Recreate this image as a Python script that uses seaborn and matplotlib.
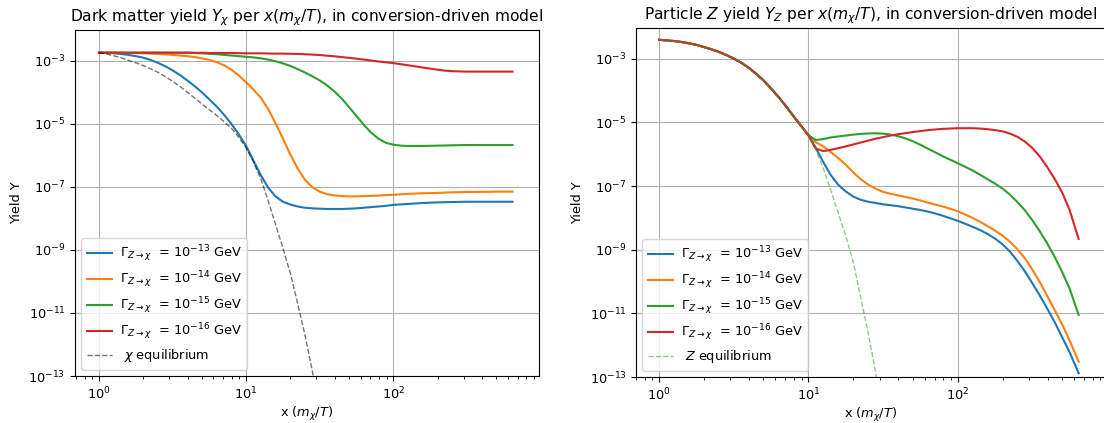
import numpy as np
import pandas as pd
import matplotlib
matplotlib.use("Agg")
import matplotlib.pyplot as plt
import seaborn as sns

# ---------------- data ----------------
# x = m_chi / T  (sampling points)
x_grid = [1.0, 1.12, 1.26, 1.41, 1.58, 1.78, 2.0, 2.24, 2.51, 2.82,
          3.16, 3.55, 3.98, 4.47, 5.01, 5.62, 6.31, 7.08, 7.94, 8.91,
          10.0, 11.2, 12.6, 14.1, 15.8, 17.8, 20.0, 22.4, 25.1, 28.2,
          31.6, 35.5, 39.8, 44.7, 50.1, 56.2, 63.1, 70.8, 79.4, 89.1,
          100, 112, 126, 141, 158, 178, 200, 224, 251, 282,
          316, 355, 398, 447, 501, 562, 646]
x_eq = [1.0, 1.12, 1.26, 1.41, 1.58, 1.78, 2.0, 2.24, 2.51, 2.82,
        3.16, 3.55, 3.98, 4.47, 5.01, 5.62, 6.31, 7.08, 7.94, 8.91,
        10.0, 11.2, 12.6, 14.1, 15.8, 17.8, 20.0, 22.4, 25.1, 28.2, 31.6]

gamma_exponents = [-13, -14, -15, -16]
y_tick_values = [1e-13, 1e-11, 1e-9, 1e-7, 1e-5, 1e-3]

# Left panel: log10 of dark-matter yield Y_chi
logY_chi_g13 = [-2.74, -2.745, -2.76, -2.78, -2.81, -2.85, -2.90, -2.97, -3.06, -3.17,
                -3.30, -3.45, -3.62, -3.80, -4.00, -4.22, -4.45, -4.71, -5.00, -5.33,
                -5.70, -6.16, -6.63, -7.02, -7.30, -7.47, -7.56, -7.62, -7.66, -7.68,
                -7.69, -7.70, -7.70, -7.70, -7.69, -7.68, -7.66, -7.64, -7.62, -7.60,
                -7.57, -7.555, -7.54, -7.525, -7.51, -7.50, -7.49, -7.485, -7.48, -7.475,
                -7.47, -7.47, -7.47, -7.47, -7.47, -7.47, -7.47]
logY_chi_g14 = [-2.74, -2.74, -2.74, -2.745, -2.75, -2.755, -2.76, -2.77, -2.78, -2.795,
                -2.81, -2.83, -2.85, -2.88, -2.92, -2.97, -3.04, -3.14, -3.28, -3.46,
                -3.68, -3.91, -4.17, -4.52, -4.97, -5.47, -5.98, -6.42, -6.77, -7.01,
                -7.15, -7.23, -7.27, -7.29, -7.30, -7.30, -7.29, -7.285, -7.275, -7.26,
                -7.25, -7.235, -7.22, -7.21, -7.20, -7.195, -7.19, -7.18, -7.17, -7.165,
                -7.16, -7.16, -7.155, -7.155, -7.15, -7.15, -7.15]
logY_chi_g15 = [-2.74, -2.74, -2.74, -2.74, -2.74, -2.74, -2.74, -2.74, -2.74, -2.74,
                -2.74, -2.74, -2.74, -2.75, -2.76, -2.775, -2.79, -2.81, -2.83, -2.85,
                -2.87, -2.89, -2.92, -2.96, -3.01, -3.08, -3.16, -3.26, -3.37, -3.49,
                -3.62, -3.78, -3.97, -4.20, -4.47, -4.75, -5.03, -5.28, -5.47, -5.60,
                -5.66, -5.69, -5.70, -5.70, -5.70, -5.695, -5.69, -5.685, -5.68, -5.675,
                -5.67, -5.67, -5.67, -5.67, -5.67, -5.67, -5.67]
logY_chi_g16 = [-2.74, -2.74, -2.74, -2.74, -2.74, -2.74, -2.74, -2.74, -2.74, -2.74,
                -2.74, -2.74, -2.74, -2.745, -2.745, -2.75, -2.75, -2.75, -2.75, -2.755,
                -2.76, -2.76, -2.76, -2.765, -2.77, -2.77, -2.775, -2.78, -2.79, -2.80,
                -2.815, -2.835, -2.855, -2.88, -2.905, -2.93, -2.96, -2.99, -3.02, -3.045,
                -3.07, -3.105, -3.14, -3.175, -3.21, -3.245, -3.28, -3.31, -3.325, -3.335,
                -3.34, -3.34, -3.34, -3.34, -3.34, -3.34, -3.34]
logY_chi_eq = [-2.74, -2.78, -2.84, -2.90, -2.98, -3.06, -3.15, -3.25, -3.36, -3.50,
               -3.65, -3.81, -3.99, -4.18, -4.37, -4.55, -4.73, -4.93, -5.14, -5.42,
               -5.76, -6.20, -6.75, -7.43, -8.17, -8.95, -9.75, -10.70, -11.70, -12.85,
               -14.10]

# Right panel: log10 of particle-Z yield Y_Z
logY_Z_g13 = [-2.40, -2.42, -2.44, -2.47, -2.51, -2.56, -2.63, -2.70, -2.78, -2.88,
              -2.99, -3.12, -3.28, -3.47, -3.68, -3.93, -4.20, -4.49, -4.80, -5.10,
              -5.40, -5.80, -6.25, -6.65, -6.95, -7.17, -7.33, -7.43, -7.49, -7.53,
              -7.57, -7.60, -7.63, -7.67, -7.71, -7.75, -7.80, -7.86, -7.93, -8.01,
              -8.09, -8.18, -8.28, -8.38, -8.50, -8.65, -8.83, -9.06, -9.35, -9.68,
              -10.05, -10.44, -10.85, -11.28, -11.75, -12.22, -12.88]
logY_Z_g14 = [-2.40, -2.42, -2.44, -2.47, -2.51, -2.56, -2.63, -2.70, -2.78, -2.88,
              -2.99, -3.12, -3.28, -3.47, -3.68, -3.93, -4.20, -4.49, -4.80, -5.10,
              -5.40, -5.62, -5.75, -5.93, -6.11, -6.33, -6.57, -6.78, -6.95, -7.08,
              -7.18, -7.24, -7.29, -7.34, -7.39, -7.45, -7.52, -7.58, -7.64, -7.71,
              -7.79, -7.89, -8.00, -8.12, -8.25, -8.40, -8.56, -8.75, -8.98, -9.27,
              -9.62, -10.02, -10.45, -10.90, -11.35, -11.85, -12.52]
logY_Z_g15 = [-2.40, -2.42, -2.44, -2.47, -2.51, -2.56, -2.63, -2.70, -2.78, -2.88,
              -2.99, -3.12, -3.28, -3.47, -3.68, -3.93, -4.20, -4.49, -4.80, -5.10,
              -5.40, -5.55, -5.52, -5.47, -5.44, -5.41, -5.38, -5.36, -5.345, -5.34,
              -5.35, -5.38, -5.43, -5.50, -5.59, -5.70, -5.82, -5.94, -6.06, -6.17,
              -6.28, -6.39, -6.51, -6.64, -6.78, -6.92, -7.08, -7.27, -7.50, -7.76,
              -8.07, -8.42, -8.80, -9.23, -9.70, -10.22, -11.05]
logY_Z_g16 = [-2.40, -2.42, -2.44, -2.47, -2.51, -2.56, -2.63, -2.70, -2.78, -2.88,
              -2.99, -3.12, -3.28, -3.47, -3.68, -3.93, -4.20, -4.49, -4.80, -5.10,
              -5.40, -5.82, -5.90, -5.86, -5.81, -5.75, -5.69, -5.63, -5.57, -5.51,
              -5.46, -5.41, -5.37, -5.335, -5.30, -5.27, -5.24, -5.22, -5.20, -5.19,
              -5.18, -5.18, -5.18, -5.19, -5.21, -5.24, -5.28, -5.35, -5.45, -5.60,
              -5.80, -6.07, -6.40, -6.78, -7.20, -7.75, -8.66]
logY_Z_eq = [-2.40, -2.42, -2.44, -2.47, -2.51, -2.56, -2.63, -2.70, -2.78, -2.88,
             -2.99, -3.12, -3.28, -3.47, -3.68, -3.93, -4.20, -4.49, -4.80, -5.10,
             -5.40, -5.85, -6.45, -7.12, -7.83, -8.57, -9.40, -10.50, -11.60, -12.85,
             -14.30]

# ---------------- style ----------------
plt.rcParams.update({
    "axes.titlesize": 11.2,
    "axes.labelsize": 9.3,
    "xtick.labelsize": 9.3,
    "ytick.labelsize": 9.3,
    "legend.fontsize": 9.3,
})

def gamma_label(e):
    return r"$\Gamma_{Z\rightarrow\chi}$  = $10^{%d}$ GeV" % e

def make_df(series, x):
    return pd.DataFrame({"x": x, "Y": np.power(10.0, np.array(series))})

left_series = [logY_chi_g13, logY_chi_g14, logY_chi_g15, logY_chi_g16]
right_series = [logY_Z_g13, logY_Z_g14, logY_Z_g15, logY_Z_g16]
colors = sns.color_palette("tab10", 4)

fig = plt.figure(figsize=(11.04, 4.23), dpi=100)
axL = fig.add_axes([0.0679, 0.1111, 0.4203, 0.8180])
axR = fig.add_axes([0.5761, 0.1087, 0.4257, 0.8251])

for ax, series, eq, eq_label, eq_kw, ytop, xlim, title in [
    (axL, left_series, logY_chi_eq, r" $\chi$ equilibrium",
     dict(color="k", alpha=0.55), 10 ** -2.02, (0.687, 977),
     r"Dark matter yield $Y_\chi$ per $x(m_\chi/T)$, in conversion-driven model"),
    (axR, right_series, logY_Z_eq, r" $Z$ equilibrium",
     dict(color="tab:green", alpha=0.55), 10 ** -2.03, (0.70, 985),
     r"Particle $Z$ yield $Y_Z$ per $x(m_\chi/T)$, in conversion-driven model"),
]:
    for s, e, c in zip(series, gamma_exponents, colors):
        sns.lineplot(data=make_df(s, x_grid), x="x", y="Y", ax=ax, color=c,
                     linewidth=1.5, label=gamma_label(e), estimator=None, sort=False)
    sns.lineplot(data=make_df(eq, x_eq), x="x", y="Y", ax=ax, linestyle="--",
                 linewidth=1.0, label=eq_label, estimator=None, sort=False, **eq_kw)
    ax.set_xscale("log")
    ax.set_yscale("log")
    ax.set_yticks(y_tick_values)
    ax.set_xlim(*xlim)
    ax.set_ylim(1e-13, ytop)
    ax.grid(True)
    ax.set_xlabel(r"x ($m_\chi/T$)", labelpad=2)
    ax.set_ylabel("Yield Y")
    ax.set_title(title)
    ax.legend(loc="lower left", labelspacing=0.42, handletextpad=0.6)

fig.savefig("out.png", dpi=100)
